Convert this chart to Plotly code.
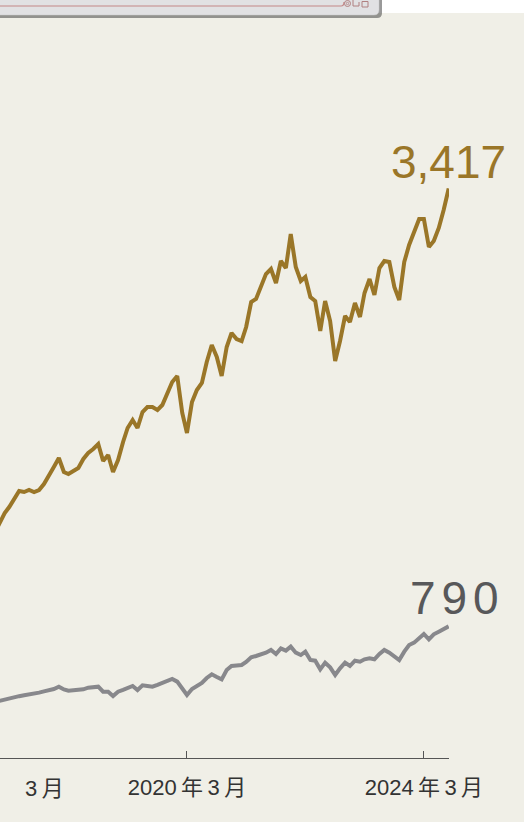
import plotly.graph_objects as go
import pandas as pd

# ---- data (monthly values) ----
months = pd.date_range("2016-12-01", "2024-08-01", freq="MS").strftime("%Y-%m-%d").tolist()

gold_values = [
    1350, 1410, 1470, 1506, 1554, 1602, 1596, 1608, 1596, 1608, 1644, 1692, 1746,
    1800, 1716, 1704, 1722, 1740, 1794, 1830, 1854, 1884, 1782, 1818, 1716,
    1788, 1896, 1980, 2028, 1980, 2076, 2106, 2106, 2088, 2118, 2190, 2256,
    2292, 2070, 1950, 2136, 2208, 2250, 2376, 2478, 2406, 2292, 2466, 2550,
    2514, 2502, 2586, 2736, 2754, 2826, 2904, 2934, 2850, 2982, 2940, 3144,
    2946, 2862, 2886, 2766, 2742, 2562, 2742, 2622, 2382, 2502, 2652, 2616,
    2730, 2646, 2790, 2874, 2778, 2940, 2982, 2976, 2826, 2748, 2976, 3078,
    3156, 3234, 3234, 3066, 3102, 3180, 3288, 3417,
]

gray_values = [
    336, 344, 350, 357, 365, 371, 376, 380, 386, 392, 400, 407, 414,
    428, 411, 404, 406, 407, 412, 422, 426, 428, 398, 397, 372,
    398, 409, 421, 432, 408, 436, 432, 428, 439, 451, 462, 474,
    458, 420, 378, 414, 435, 450, 480, 502, 486, 472, 528, 552,
    555, 558, 576, 604, 612, 621, 632, 648, 624, 658, 644, 668,
    632, 618, 638, 588, 584, 532, 572, 544, 498, 538, 572, 552,
    584, 578, 592, 598, 592, 624, 648, 632, 608, 588, 638, 678,
    692, 718, 744, 712, 742, 758, 772, 790,
]

tick_dates = ["2020-03-01", "2024-03-01"]
tick_labels = ["2020\u2009年\u20093\u2009月", "2024\u2009年\u20093\u2009月"]
clipped_label = "3\u2009月"

GOLD = "#9a7628"
GRAY = "#88888c"
BG = "#f0efe7"

W, H = 524, 822
ML, MR, MT, MB = 0, 75, 0, 64
PW, PH = W - ML - MR, H - MT - MB


def px(x):
    return (x - ML) / PW


def py(y):
    return 1 - (y - MT) / PH


def spaced(s, gap_size=21):
    sp = f"<span style='font-size:{gap_size}px'> </span>"
    return sp.join(list(s))


fig = go.Figure()
fig.add_trace(go.Scatter(x=months, y=gold_values, mode="lines",
                         line=dict(color=GOLD, width=4), hoverinfo="skip",
                         showlegend=False))
fig.add_trace(go.Scatter(x=months, y=gray_values, mode="lines",
                         line=dict(color=GRAY, width=4), hoverinfo="skip",
                         showlegend=False))

font_fam = "Liberation Sans, Noto Sans CJK JP, sans-serif"

fig.add_annotation(x=months[-1], y=gold_values[-1], text=f"{gold_values[-1]:,}",
                   showarrow=False, xanchor="center", yanchor="bottom", yshift=-1,
                   font=dict(size=46, color=GOLD, family=font_fam))
fig.add_annotation(x=months[-1], y=gray_values[-1], text=spaced(f"{gray_values[-1]:,}"),
                   showarrow=False, xanchor="center", yanchor="bottom", yshift=0, xshift=5,
                   font=dict(size=46, color="#58585a", family=font_fam))
fig.add_annotation(xref="paper", yref="paper", x=px(44), y=0, yanchor="top",
                   xanchor="center", yshift=-16, text=clipped_label, showarrow=False,
                   font=dict(size=22, color="#333333", family=font_fam))

# top window-like strip
shapes = []
shapes.append(dict(type="rect", xref="paper", yref="paper", x0=px(0), x1=px(W),
                   y0=py(13), y1=py(-5), fillcolor="white", line=dict(width=0), layer="above"))
shapes.append(dict(type="path", xref="paper", yref="paper",
                   path=f"M {px(-5)},{py(-5)} L {px(382)},{py(-5)} L {px(382)},{py(13)} "
                        f"Q {px(382)},{py(18)} {px(377)},{py(18)} L {px(-5)},{py(18)} Z",
                   fillcolor="rgba(70,70,70,0.55)", line=dict(width=0), layer="above"))
shapes.append(dict(type="path", xref="paper", yref="paper",
                   path=f"M {px(-5)},{py(-5)} L {px(379)},{py(-5)} L {px(379)},{py(10)} "
                        f"Q {px(379)},{py(15)} {px(374)},{py(15)} L {px(-5)},{py(15)} Z",
                   fillcolor="#e1e1e3", line=dict(color="#c8c8c8", width=0.5), layer="above"))
shapes.append(dict(type="line", xref="paper", yref="paper", x0=px(0), x1=px(341),
                   y0=py(6), y1=py(6), line=dict(color="#c48888", width=1.2), layer="above"))
shapes.append(dict(type="path", xref="paper", yref="paper",
                   path=f"M {px(341)},{py(6)} Q {px(344)},{py(6)} {px(344)},{py(2)}",
                   line=dict(color="#c48888", width=1.2), layer="above"))
shapes.append(dict(type="circle", xref="paper", yref="paper", x0=px(344.5), x1=px(350.5),
                   y0=py(6.5), y1=py(0.5), line=dict(color="#b08080", width=1), layer="above"))
shapes.append(dict(type="circle", xref="paper", yref="paper", x0=px(346.3), x1=px(348.7),
                   y0=py(4.7), y1=py(2.3), line=dict(color="#b08080", width=0.8), layer="above"))
shapes.append(dict(type="path", xref="paper", yref="paper",
                   path=f"M {px(353)},{py(0)} L {px(353)},{py(6)} L {px(359)},{py(6)} L {px(359)},{py(2)}",
                   line=dict(color="#b08080", width=1), layer="above"))
shapes.append(dict(type="rect", xref="paper", yref="paper", x0=px(362), x1=px(368),
                   y0=py(7), y1=py(1.5), line=dict(color="#b08080", width=1), layer="above"))

fig.update_layout(
    width=W, height=H,
    margin=dict(l=ML, r=MR, t=MT, b=MB),
    paper_bgcolor=BG, plot_bgcolor=BG,
    shapes=shapes,
    xaxis=dict(type="date", range=["2017-01-03", "2024-08-03"],
               tickvals=tick_dates, ticktext=tick_labels,
               ticks="inside", ticklen=7, tickwidth=1, tickcolor="#555555",
               showline=True, linecolor="#555555", linewidth=1,
               showgrid=False, zeroline=False, ticklabelstandoff=10,
               tickfont=dict(size=22, color="#333333", family=font_fam)),
    yaxis=dict(range=[0, 4548], visible=False, showgrid=False, zeroline=False),
)

fig.write_html("out.html", config={"displayModeBar": False},
               post_script="document.body.style.margin='0';document.body.style.overflow='hidden';")
